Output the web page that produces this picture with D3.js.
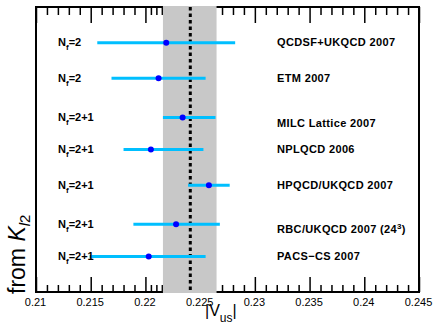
<!DOCTYPE html>
<html lang="en">
<head>
<meta charset="utf-8">
<title>Vus from Kl2</title>
<script src="https://cdn.jsdelivr.net/npm/d3@7"></script>
<style>
body { margin: 0; background: #fff; }
text { font-family: "Liberation Sans", Arial, sans-serif; }
.lbl { font-weight: bold; font-size: 11px; }
.grp { letter-spacing: 0.35px; }
.tick text { font-size: 11px; }
</style>
</head>
<body>
<script>
// values
var groups = ["QCDSF+UKQCD 2007", "ETM 2007", "MILC Lattice 2007", "NPLQCD 2006",
              "HPQCD/UKQCD 2007", "RBC/UKQCD 2007 (24", "PACS\u2212CS 2007"];
var nf      = ["2", "2", "2+1", "2+1", "2+1", "2+1", "2+1"];
var central = [0.2219, 0.2212, 0.2234, 0.2205, 0.2258, 0.2228, 0.2203];
var lower   = [0.2156, 0.2169, 0.2216, 0.2180, 0.2239, 0.2189, 0.2149];
var upper   = [0.2282, 0.2255, 0.2264, 0.2253, 0.2277, 0.2268, 0.2255];
var rowPos  = [7, 6, 4.9, 4, 3, 1.9, 1];
var textPos = [7, 6, 4.75, 4, 3, 1.75, 1];
var band = [0.2216, 0.2265];
var bandMid = 0.2241;
var majorTicks = [0.21, 0.215, 0.22, 0.225, 0.23, 0.235, 0.24, 0.245];
var tickLabels = ["0.21", "0.215", "0.22", "0.225", "0.23", "0.235", "0.24", "0.245"];
var extraTicks = [0.2205, 0.2215];

var w = 435, h = 329;
var fL = 36, fR = 419, fT = 7, fB = 292;

var svg = d3.select("body").append("svg")
    .attr("width", w)
    .attr("height", h);

var x = d3.scaleLinear().domain([0.21, 0.245]).range([fL, fR]);
var y = d3.scaleLinear().domain([0, 8]).range([fB, fT]);

var minorTicks = d3.range(211, 245).map(function(d){ return d / 1000; })
    .filter(function(d){ return Math.round(d * 1000) % 5 != 0; })
    .concat(extraTicks);

// frame
svg.append("rect")
    .attr("x", fL).attr("y", fT)
    .attr("width", fR - fL).attr("height", fB - fT)
    .attr("fill", "white")
    .attr("stroke", "black")
    .attr("stroke-width", 2);

function tickLayer(axis, ty){
    var g = svg.append("g")
        .attr("transform", "translate(0," + ty + ")")
        .call(axis);
    g.select(".domain").remove();
    g.selectAll(".tick line").attr("stroke", "black").attr("stroke-width", 1.5);
    return g;
}

// bottom axis with labels
var bAxis = tickLayer(d3.axisBottom(x).tickValues(majorTicks)
        .tickFormat(function(d, i){ return tickLabels[i]; })
        .tickSize(-15).tickPadding(0), fB);
bAxis.selectAll(".tick text").attr("x", -1).attr("y", 14).attr("dy", 0).attr("fill", "black");
tickLayer(d3.axisBottom(x).tickValues(minorTicks).tickFormat("").tickSize(-7), fB);
tickLayer(d3.axisTop(x).tickValues(majorTicks).tickFormat("").tickSize(-16), fT);
tickLayer(d3.axisTop(x).tickValues(minorTicks).tickFormat("").tickSize(-8), fT);

// average band
svg.append("rect")
    .attr("x", x(band[0])).attr("y", fT - 1)
    .attr("width", x(band[1]) - x(band[0]))
    .attr("height", fB - fT + 2)
    .attr("fill", "#c8c8c8");

svg.append("line")
    .attr("x1", x(bandMid)).attr("x2", x(bandMid))
    .attr("y1", fT).attr("y2", fB)
    .attr("stroke", "black")
    .attr("stroke-width", 3)
    .attr("stroke-dasharray", "3.5,3");

var idx = d3.range(groups.length);

svg.selectAll(".err").data(idx).enter().append("line")
    .attr("class", "err")
    .attr("x1", function(i){ return x(lower[i]); })
    .attr("x2", function(i){ return x(upper[i]); })
    .attr("y1", function(i){ return y(rowPos[i]); })
    .attr("y2", function(i){ return y(rowPos[i]); })
    .attr("stroke", "#00bfff")
    .attr("stroke-width", 3);

svg.selectAll(".pt").data(idx).enter().append("circle")
    .attr("class", "pt")
    .attr("cx", function(i){ return x(central[i]); })
    .attr("cy", function(i){ return y(rowPos[i]); })
    .attr("r", 3)
    .attr("fill", "#0000ff");

// N_f labels
var nfl = svg.selectAll(".nf").data(idx).enter().append("text")
    .attr("class", "lbl nf")
    .attr("x", 58)
    .attr("y", function(i){ return y(rowPos[i]) + 3.8; });
nfl.append("tspan").text("N");
nfl.append("tspan").attr("dy", 4).attr("font-size", "8px").text("f");
nfl.append("tspan").attr("dy", -4).text(function(i){ return "=" + nf[i]; });

// collaboration labels
var gl = svg.selectAll(".grp").data(idx).enter().append("text")
    .attr("class", "lbl grp")
    .attr("x", 277)
    .attr("y", function(i){ return y(textPos[i]) + 3.8; });
gl.append("tspan").text(function(i){ return groups[i]; });
gl.filter(function(i){ return i == 5; }).each(function(){
    var t = d3.select(this);
    t.append("tspan").attr("dy", -4).attr("font-size", "8px").text("3");
    t.append("tspan").attr("dy", 4).text(")");
});

// axis titles
var xt = svg.append("text")
    .attr("x", 205).attr("y", 315.5)
    .attr("font-size", "16px");
xt.append("tspan").text("|V");
xt.append("tspan").attr("dy", 6).attr("font-size", "12px").text("us");
xt.append("tspan").attr("dy", -6).text("|");

var yt = svg.append("text")
    .attr("transform", "translate(25,294) rotate(-90)")
    .attr("font-size", "23px");
yt.append("tspan").text("from ");
yt.append("tspan").attr("font-style", "italic").text("K");
yt.append("tspan").attr("dy", 5).attr("font-size", "15px").attr("font-style", "italic").text("l");
yt.append("tspan").attr("font-size", "15px").text("2");
</script>
</body>
</html>
